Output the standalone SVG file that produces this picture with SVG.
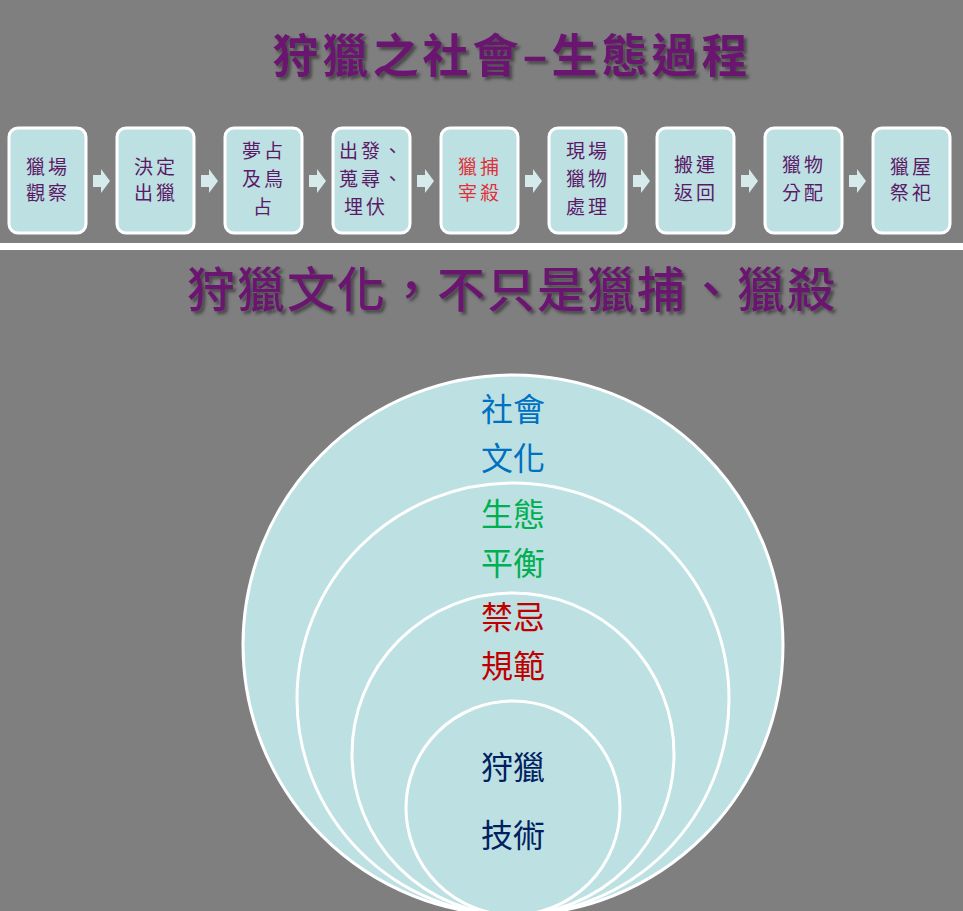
<svg xmlns="http://www.w3.org/2000/svg" width="963" height="911" viewBox="0 0 963 911">
<defs>
<style>
.t{font-family:"Noto Sans CJK TC","Noto Sans CJK SC",sans-serif}
.box rect{fill:#bde0e3;stroke:#fff;stroke-width:3}
.box text{font-family:"Noto Sans CJK TC",sans-serif;font-size:19px;fill:#5b1a66;text-anchor:middle;letter-spacing:3px}
.arr{fill:#d6eaec}
.c{fill:#bde0e3;stroke:#fff;stroke-width:3}
.ct{font-family:"Noto Sans CJK TC",sans-serif;font-size:32px;text-anchor:middle}
</style>
<filter id="sh" x="-5%" y="-20%" width="110%" height="140%"><feDropShadow dx="3" dy="3" stdDeviation="1.5" flood-color="#333" flood-opacity="0.7"/></filter>
</defs>
<rect width="963" height="911" fill="#7f7f7f"/>
<rect x="0" y="243" width="963" height="7" fill="#fff"/>
<text class="t" x="512" y="72" font-size="46" font-weight="bold" letter-spacing="4" fill="#6a1470" text-anchor="middle" filter="url(#sh)">狩獵之社會–生態過程</text>
<text class="t" x="512" y="307" font-size="48" font-weight="500" letter-spacing="2" fill="#6a1470" text-anchor="middle" filter="url(#sh)">狩獵文化，不只是獵捕、獵殺</text>
<g id="connectors">
<path class="arr" d="M93 175h8v-6l9 12-9 12v-6h-8z"/>
<path class="arr" d="M201 175h8v-6l9 12-9 12v-6h-8z"/>
<path class="arr" d="M309 175h8v-6l9 12-9 12v-6h-8z"/>
<path class="arr" d="M417 175h8v-6l9 12-9 12v-6h-8z"/>
<path class="arr" d="M525 175h8v-6l9 12-9 12v-6h-8z"/>
<path class="arr" d="M633 175h8v-6l9 12-9 12v-6h-8z"/>
<path class="arr" d="M741 175h8v-6l9 12-9 12v-6h-8z"/>
<path class="arr" d="M849 175h8v-6l9 12-9 12v-6h-8z"/>
</g>
<g id="n1" class="box"><rect x="9" y="128" width="77" height="105" rx="9"/><text x="48" y="174">獵場</text><text x="48" y="200">觀察</text></g>
<g id="n2" class="box"><rect x="117" y="128" width="77" height="105" rx="9"/><text x="156" y="174">決定</text><text x="156" y="200">出獵</text></g>
<g id="n3" class="box"><rect x="225" y="128" width="77" height="105" rx="9"/><text x="264" y="158">夢占</text><text x="264" y="186">及鳥</text><text x="264" y="214">占</text></g>
<g id="n4" class="box"><rect x="333" y="128" width="77" height="105" rx="9"/><text x="372" y="158">出發、</text><text x="372" y="186">蒐尋、</text><text x="366" y="214">埋伏</text></g>
<g id="n5" class="box"><rect x="441" y="128" width="77" height="105" rx="9"/><text x="480" y="174" style="fill:#e0303a">獵捕</text><text x="480" y="200" style="fill:#e0303a">宰殺</text></g>
<g id="n6" class="box"><rect x="549" y="128" width="77" height="105" rx="9"/><text x="588" y="158">現場</text><text x="588" y="186">獵物</text><text x="588" y="214">處理</text></g>
<g id="n7" class="box"><rect x="657" y="128" width="77" height="105" rx="9"/><text x="696" y="172">搬運</text><text x="696" y="200">返回</text></g>
<g id="n8" class="box"><rect x="765" y="128" width="77" height="105" rx="9"/><text x="804" y="172">獵物</text><text x="804" y="200">分配</text></g>
<g id="n9" class="box"><rect x="873" y="128" width="77" height="105" rx="9"/><text x="912" y="174">獵屋</text><text x="912" y="200">祭祀</text></g>
<g id="c1"><circle class="c" cx="513" cy="645" r="270"/><text class="ct" x="513" y="421" fill="#0070c0">社會</text><text class="ct" x="513" y="470" fill="#0070c0">文化</text></g>
<g id="c2"><circle class="c" cx="513" cy="699" r="216"/><text class="ct" x="513" y="526" fill="#00b050">生態</text><text class="ct" x="513" y="575" fill="#00b050">平衡</text></g>
<g id="c3"><circle class="c" cx="513" cy="754" r="161"/><text class="ct" x="513" y="629" fill="#c00000">禁忌</text><text class="ct" x="513" y="678" fill="#c00000">規範</text></g>
<g id="c4"><circle class="c" cx="513" cy="808" r="107"/><text class="ct" x="513" y="779" fill="#002060" font-size="36">狩獵</text><text class="ct" x="513" y="847" fill="#002060" font-size="36">技術</text></g>
</svg>
